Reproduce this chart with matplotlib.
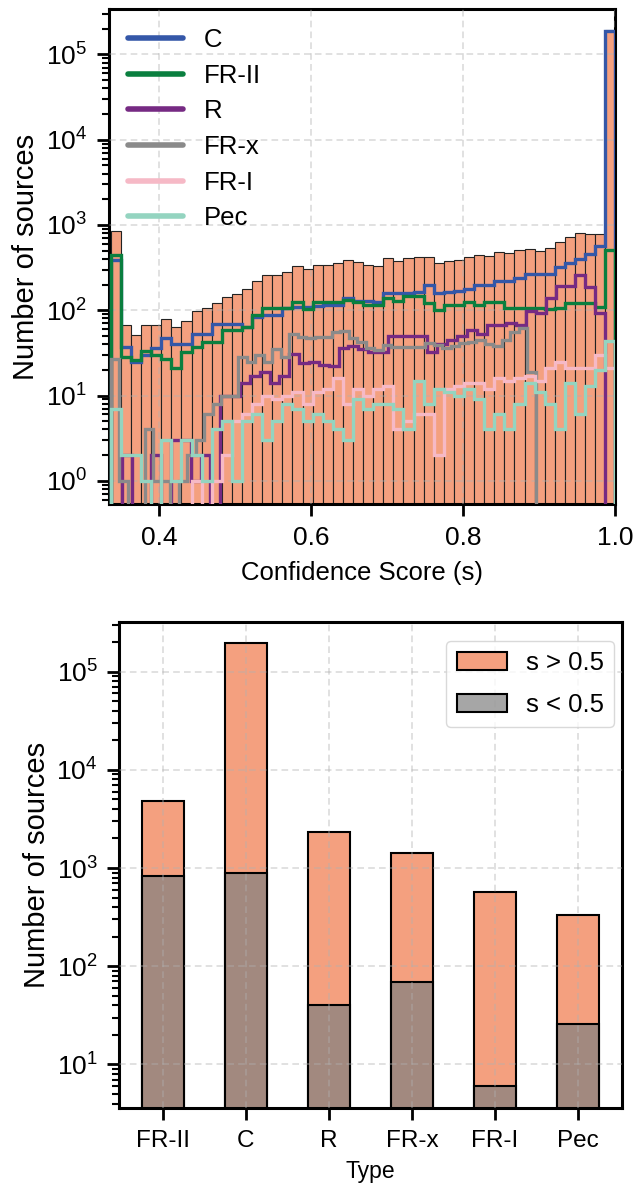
import numpy as np
import matplotlib
matplotlib.use("Agg")
import matplotlib.pyplot as plt
from matplotlib.lines import Line2D

plt.rcParams['font.family'] = ['Liberation Sans', 'DejaVu Sans']
plt.rcParams['mathtext.fontset'] = 'custom'
plt.rcParams['mathtext.rm'] = 'Liberation Sans'
plt.rcParams['mathtext.it'] = 'Liberation Sans:italic'
plt.rcParams['mathtext.bf'] = 'Liberation Sans:bold'
plt.rcParams['mathtext.default'] = 'regular'

# ---------------- data: top panel (histograms, 50 bins each) ----------------
n_bins = 50
score_lo, score_hi = 0.3363, 1.0

all_counts = [840, 68, 51, 68, 68, 79, 64, 74, 97, 105,
              120, 144, 157, 179, 222, 256, 256, 283, 327, 307,
              342, 342, 355, 384, 367, 342, 330, 413, 381, 410,
              417, 425, 355, 381, 392, 425, 448, 436, 481, 471,
              513, 518, 499, 531, 629, 720, 811, 788, 780, 192000]

class_names = ['C', 'FR-II', 'R', 'FR-x', 'FR-I', 'Pec']
class_colors = ['#3457A8', '#0A7F3F', '#762A83', '#8A8A8A', '#F6B9C6', '#94D4C0']

c_counts = [384, 37, 25, 30, 36, 47, 40, 40, 53, 53,
            69, 69, 69, 64, 84, 89, 89, 105, 108, 110,
            112, 116, 115, 141, 128, 130, 125, 160, 160, 160,
            164, 196, 160, 164, 168, 179, 196, 196, 220, 220,
            241, 264, 268, 268, 321, 357, 402, 460, 561, 190000]
fr2_counts = [450, 28, 26, 33, 30, 27, 21, 32, 37, 42,
              42, 58, 58, 63, 88, 105, 107, 107, 125, 102,
              125, 125, 125, 133, 125, 114, 114, 141, 127, 146,
              146, 120, 100, 116, 116, 125, 114, 125, 125, 105,
              107, 105, 107, 102, 107, 122, 122, 120, 108, 513]
r_counts = [0, 2, 0, 0, 2, 0, 3, 3, 1, 2,
            0, 10, 10, 14, 17, 19, 14, 17, 31, 24,
            25, 23, 22, 36, 38, 35, 32, 32, 50, 50,
            50, 50, 32, 40, 45, 50, 58, 53, 67, 67,
            70, 67, 97, 92, 140, 190, 190, 260, 185, 92]
frx_counts = [27, 1, 0, 0, 4, 1, 1, 0, 1, 2,
              3, 6, 8, 10, 10, 28, 25, 30, 25, 35,
              28, 53, 48, 47, 48, 48, 55, 57, 47, 42,
              36, 34, 39, 37, 37, 37, 37, 41, 39, 36,
              38, 41, 42, 45, 40, 38, 45, 55, 62, 19]
fr1_counts = [0, 0, 0, 0, 0, 0, 0, 0, 1, 0,
              1, 2, 5, 6, 8, 10, 9, 10, 11, 8,
              11, 12, 16, 8, 12, 10, 12, 13, 4, 5,
              6, 6, 2, 12, 13, 14, 14, 12, 16, 15,
              16, 17, 15, 21, 25, 21, 21, 21, 30, 21]
pec_counts = [7, 2, 2, 1, 0, 3, 1, 3, 2, 1,
              4, 5, 1, 5, 6, 3, 5, 8, 7, 5,
              6, 5, 4, 3, 9, 7, 8, 8, 7, 4,
              15, 8, 12, 11, 10, 12, 9, 4, 6, 4,
              8, 14, 11, 8, 4, 14, 6, 13, 20, 43]
class_counts = [c_counts, fr2_counts, r_counts, frx_counts, fr1_counts, pec_counts]
# score range (min, max) of each class
class_ranges = [(0.3363, 1.0), (0.3363, 1.0), (0.3375, 0.9862),
                (0.3363, 0.8952), (0.3363, 1.0), (0.3363, 1.0)]

# ---------------- data: bottom panel ----------------
types = ['FR-II', 'C', 'R', 'FR-x', 'FR-I', 'Pec']
n_high = [4810, 197000, 2345, 1412, 575, 335]   # total bar height
n_low = [837, 890, 40, 69, 6, 26]               # s < 0.5

salmon = '#F4A07F'
grid_kw = dict(color='#b0b0b0', alpha=0.45, linewidth=1.2, linestyle=(0, (4, 2.5)))

fig = plt.figure(figsize=(6.37, 11.9), dpi=100)
ax1 = fig.add_axes([0.1705, 0.5762, 0.7956, 0.4162])
ax2 = fig.add_axes([0.1873, 0.0685, 0.7887, 0.4091])

def style_axes(ax, xsize, ysize):
    for sp in ax.spines.values():
        sp.set_linewidth(2.2)
    ax.tick_params(which='major', direction='out', length=8.5, width=2.0, pad=7)
    ax.tick_params(which='minor', direction='out', length=5, width=1.5)
    ax.tick_params(axis='x', labelsize=xsize)
    ax.tick_params(axis='y', labelsize=ysize)
    ax.set_axisbelow(False)
    ax.grid(True, which='major', **grid_kw)

# ---------------- top panel ----------------
edges = np.linspace(score_lo, score_hi, n_bins + 1)
centers = 0.5 * (edges[:-1] + edges[1:])
ax1.set_yscale('log')
ax1.hist(centers, bins=edges, weights=all_counts, color=salmon,
         edgecolor='#222222', linewidth=0.8, zorder=1)
for name, col, cnt, (lo, hi) in zip(class_names, class_colors, class_counts, class_ranges):
    e = np.linspace(lo, hi, n_bins + 1)
    c = 0.5 * (e[:-1] + e[1:])
    ax1.hist(c, bins=e, weights=cnt, histtype='step', color=col,
             linewidth=2.4, zorder=3)
ax1.set_xlim(1 / 3, 1.0)
ax1.set_ylim(0.53, 3.4e5)
ax1.set_xticks([0.4, 0.6, 0.8, 1.0])
ax1.set_xticklabels(['0.4', '0.6', '0.8', '1.0'])
ax1.set_xlabel('Confidence Score (s)', fontsize=18.5, labelpad=8)
ax1.set_ylabel('Number of sources', fontsize=21)
style_axes(ax1, 19, 19)
handles = [Line2D([0], [0], color=col, lw=4, solid_capstyle='round') for col in class_colors]
ax1.legend(handles, class_names, loc='upper left', frameon=False, fontsize=18.5,
           handlelength=2.14, borderaxespad=0.35, labelspacing=0.45)

# ---------------- bottom panel ----------------
x = np.arange(len(types))
ax2.set_yscale('log')
ax2.bar(x, n_high, width=0.5, color=salmon, edgecolor='k', linewidth=1.5,
        label='s > 0.5', zorder=1)
ax2.bar(x, n_low, width=0.5, facecolor=(0.5, 0.5, 0.5, 0.7), edgecolor='k',
        linewidth=1.5, label='s < 0.5', zorder=1)
ax2.set_xticks(x)
ax2.set_xticklabels(types)
ax2.set_xlim(-0.525, 5.525)
ax2.set_ylim(3.56, 3.23e5)
ax2.set_xlabel('Type', fontsize=16.5, labelpad=6)
ax2.set_ylabel('Number of sources', fontsize=21)
style_axes(ax2, 17.5, 19)
ax2.legend(loc='upper right', bbox_to_anchor=(0.9847, 0.9604), borderaxespad=0,
           fontsize=18.5, handlelength=1.95, handleheight=0.7, handletextpad=0.74,
           labelspacing=0.7, borderpad=0.4, framealpha=0.8, edgecolor='#d0d0d0')

fig.savefig('out.png', dpi=100)
